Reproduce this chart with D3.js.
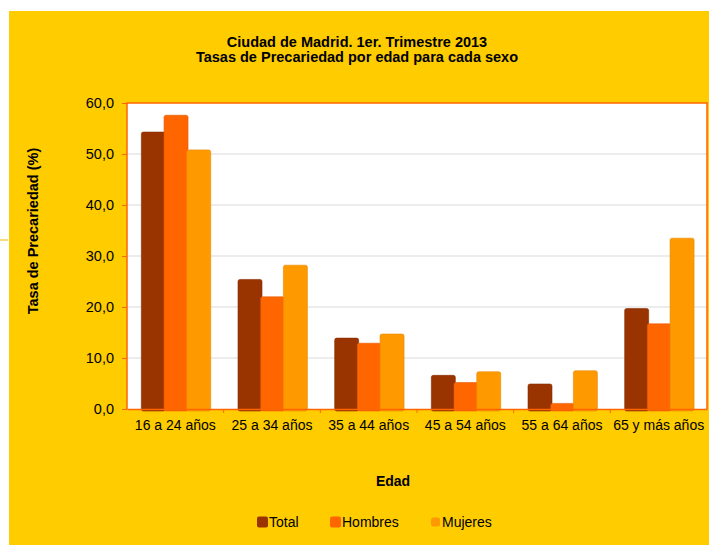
<!DOCTYPE html>
<html>
<head>
<meta charset="utf-8">
<script src="https://cdn.jsdelivr.net/npm/d3@7"></script>
<style>
  body { margin: 0; background: #fff; }
  text { font-family: "Liberation Sans", Arial, sans-serif; fill: #000; }
</style>
</head>
<body>
<svg id="chart" width="709" height="545"></svg>
<script>
// Datos
const categories = ["16 a 24 años", "25 a 34 años", "35 a 44 años", "45 a 54 años", "55 a 64 años", "65 y más años"];
const seriesNames = ["Total", "Hombres", "Mujeres"];
const totalValues = [54.3, 25.4, 13.9, 6.6, 4.9, 19.7];
const hombresValues = [57.6, 22.0, 12.9, 5.2, 1.1, 16.7];
const mujeresValues = [50.8, 28.2, 14.7, 7.3, 7.5, 33.5];
const yTicks = [0, 10, 20, 30, 40, 50, 60];

const colors = ["#993300", "#FF6600", "#FF9900"];
const seriesValues = [totalValues, hombresValues, mujeresValues];
const font = "'Liberation Sans', Arial, sans-serif";

const svg = d3.select("#chart");

// fondo
svg.append("rect").attr("x", 9).attr("y", 11).attr("width", 700).attr("height", 534).attr("fill", "#FFCC00");
svg.append("line").attr("x1", 0).attr("x2", 8).attr("y1", 240).attr("y2", 240)
    .attr("stroke", "#F2B700").attr("stroke-width", 1);

const plot = { left: 127, right: 707, top: 103, bottom: 409 };

const x = d3.scaleBand().domain(categories).range([plot.left, plot.right]);
const y = d3.scaleLinear().domain([0, 60]).range([plot.bottom, plot.top]);

// área del gráfico
svg.append("rect")
    .attr("x", plot.left).attr("y", plot.top)
    .attr("width", plot.right - plot.left).attr("height", plot.bottom - plot.top)
    .attr("fill", "#fff");

// líneas de división
svg.append("g").selectAll("line")
    .data(yTicks.slice(1, -1))
    .join("line")
    .attr("x1", plot.left).attr("x2", plot.right)
    .attr("y1", d => y(d)).attr("y2", d => y(d))
    .attr("stroke", "#d9d9d9").attr("stroke-width", 1);

// eje y
const yAxis = svg.append("g")
    .attr("transform", `translate(${plot.left},0)`)
    .call(d3.axisLeft(y).tickValues(yTicks).tickSize(5).tickPadding(8)
        .tickFormat(d => d3.format(".1f")(d).replace(".", ",")));
yAxis.select(".domain").remove();
yAxis.selectAll(".tick line").attr("stroke", "#FF6600");
yAxis.selectAll("text").style("font-size", "14.5px").style("font-family", font);

// barras
const step = 22.7, barW = 24;
seriesValues.forEach((vals, si) => {
    svg.append("g").selectAll("rect")
        .data(vals.map((v, i) => ({ cat: categories[i], v })))
        .join("rect")
        .attr("x", d => x(d.cat) + x.bandwidth() / 2 - 34 + si * step)
        .attr("y", d => y(d.v))
        .attr("width", barW)
        .attr("height", d => plot.bottom + 2 - y(d.v))
        .attr("rx", 2)
        .attr("fill", colors[si])
        .attr("stroke", d3.color(colors[si]).darker(0.3))
        .attr("stroke-width", 0.6);
});

// borde (arriba, derecha, izquierda)
svg.append("path")
    .attr("d", `M${plot.left},${plot.bottom}V${plot.top}H${plot.right}V${plot.bottom}`)
    .attr("fill", "none").attr("stroke", "#FF6600").attr("stroke-width", 1.5);

// eje x
const xAxis = svg.append("g")
    .attr("transform", `translate(0,${plot.bottom})`)
    .call(d3.axisBottom(x).tickSize(0).tickPadding(11));
xAxis.select(".domain").attr("stroke", "#FF6600").attr("stroke-width", 1.5);
xAxis.selectAll("text").style("font-size", "14px").style("font-family", font);
svg.append("g").selectAll("line")
    .data(categories.slice(1))
    .join("line")
    .attr("x1", d => x(d)).attr("x2", d => x(d))
    .attr("y1", plot.bottom).attr("y2", plot.bottom + 4)
    .attr("stroke", "#FF6600");

// títulos
svg.append("text").attr("x", 357).attr("y", 47).attr("text-anchor", "middle")
    .style("font-size", "14.5px").style("font-weight", "bold")
    .text("Ciudad de Madrid. 1er. Trimestre 2013");
svg.append("text").attr("x", 357).attr("y", 62).attr("text-anchor", "middle")
    .style("font-size", "14.5px").style("font-weight", "bold")
    .text("Tasas de Precariedad por edad para cada sexo");

svg.append("text")
    .attr("transform", "translate(38,231) rotate(-90)")
    .attr("text-anchor", "middle")
    .style("font-size", "14.5px").style("font-weight", "bold")
    .text("Tasa de Precariedad (%)");

svg.append("text").attr("x", 393).attr("y", 486).attr("text-anchor", "middle")
    .style("font-size", "14px").style("font-weight", "bold")
    .text("Edad");

// leyenda
const legendX = [257, 330, 431];
const legend = svg.append("g").selectAll("g")
    .data(seriesNames)
    .join("g")
    .attr("transform", (d, i) => `translate(${legendX[i]},522)`);
legend.append("rect")
    .attr("x", 0).attr("y", (d, i) => i === 2 ? -4.5 : -5.5)
    .attr("width", (d, i) => i === 2 ? 9 : 11).attr("height", (d, i) => i === 2 ? 9 : 11)
    .attr("rx", 2)
    .attr("fill", (d, i) => colors[i]);
legend.append("text")
    .attr("x", (d, i) => i === 2 ? 11 : 12).attr("y", 5)
    .style("font-size", "14px")
    .text(d => d);
</script>
</body>
</html>
